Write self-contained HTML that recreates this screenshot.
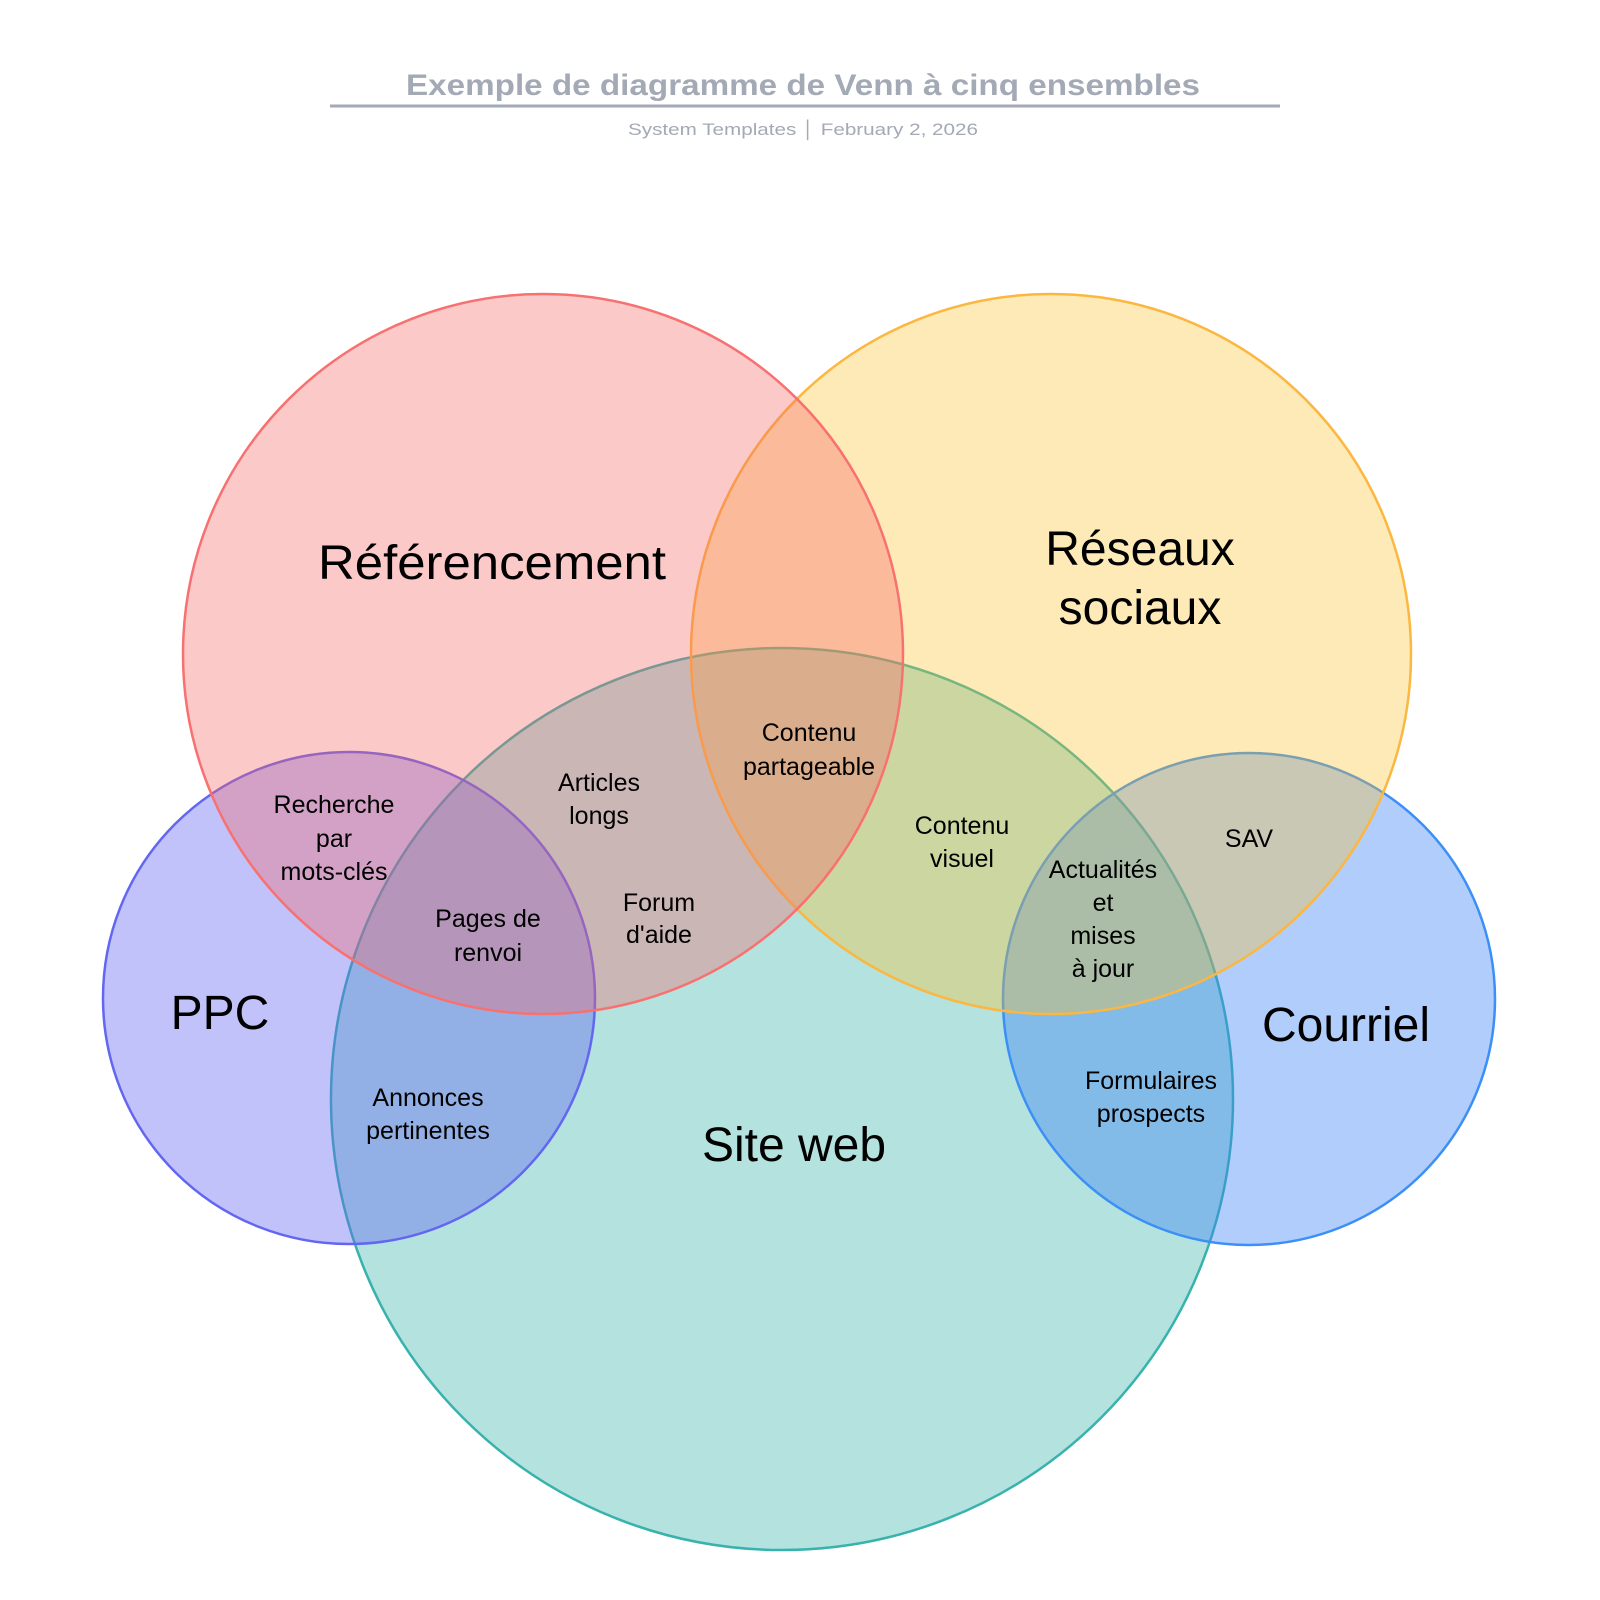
<!DOCTYPE html>
<html><head><meta charset="utf-8"><style>
html,body{margin:0;padding:0;background:#fff}
svg{display:block}
text{font-family:"Liberation Sans",sans-serif}
</style></head><body>
<svg width="1600" height="1600" viewBox="0 0 1600 1600" xmlns="http://www.w3.org/2000/svg">
<rect width="1600" height="1600" fill="#fff"/>
<g transform="translate(-4,0)">
<text x="807" y="95" text-anchor="middle" font-size="30" font-weight="bold" fill="#a3a9b5" textLength="794" lengthAdjust="spacingAndGlyphs">Exemple de diagramme de Venn à cinq ensembles</text>
<line x1="334" y1="106" x2="1284" y2="106" stroke="#a3a9b5" stroke-width="3"/>
<text x="807" y="135" text-anchor="middle" font-size="17" fill="#a3a9b5" textLength="350" lengthAdjust="spacingAndGlyphs">System Templates  │  February 2, 2026</text>

<g stroke-width="2.5">
<circle cx="786" cy="1099" r="451" fill="#38b2ac" fill-opacity="0.38" stroke="#38b2ac"/>
<circle cx="353" cy="998" r="246" fill="#6366f1" fill-opacity="0.4" stroke="#6366f1"/>
<circle cx="1253" cy="999" r="246" fill="#3b82f6" fill-opacity="0.4" stroke="#3b8ff6"/>
<circle cx="1055" cy="654" r="360" fill="#fbbf24" fill-opacity="0.33" stroke="#fbb740"/>
<circle cx="547" cy="654" r="360" fill="#f56565" fill-opacity="0.35" stroke="#f87171"/>
</g>

<g font-size="48" fill="#000" text-anchor="middle">
<text x="496" y="579" textLength="348" lengthAdjust="spacingAndGlyphs">Référencement</text>
<text x="1144" y="565">Réseaux</text>
<text x="1144" y="624">sociaux</text>
<text x="224" y="1029">PPC</text>
<text x="1350" y="1041">Courriel</text>
<text x="798" y="1161">Site web</text>
</g>
<g font-size="25" fill="#000" text-anchor="middle">
<text x="813" y="741">Contenu</text><text x="813" y="775">partageable</text>
<text x="603" y="791">Articles</text><text x="603" y="824">longs</text>
<text x="338" y="813">Recherche</text><text x="338" y="847">par</text><text x="338" y="880">mots-clés</text>
<text x="492" y="927">Pages de</text><text x="492" y="961">renvoi</text>
<text x="663" y="911">Forum</text><text x="663" y="943">d'aide</text>
<text x="966" y="834">Contenu</text><text x="966" y="867">visuel</text>
<text x="1107" y="878">Actualités</text><text x="1107" y="911">et</text><text x="1107" y="944">mises</text><text x="1107" y="977">à jour</text>
<text x="1253" y="847">SAV</text>
<text x="432" y="1106">Annonces</text><text x="432" y="1139">pertinentes</text>
<text x="1155" y="1089">Formulaires</text><text x="1155" y="1122">prospects</text>
</g>
</g>
</svg>
</body></html>
